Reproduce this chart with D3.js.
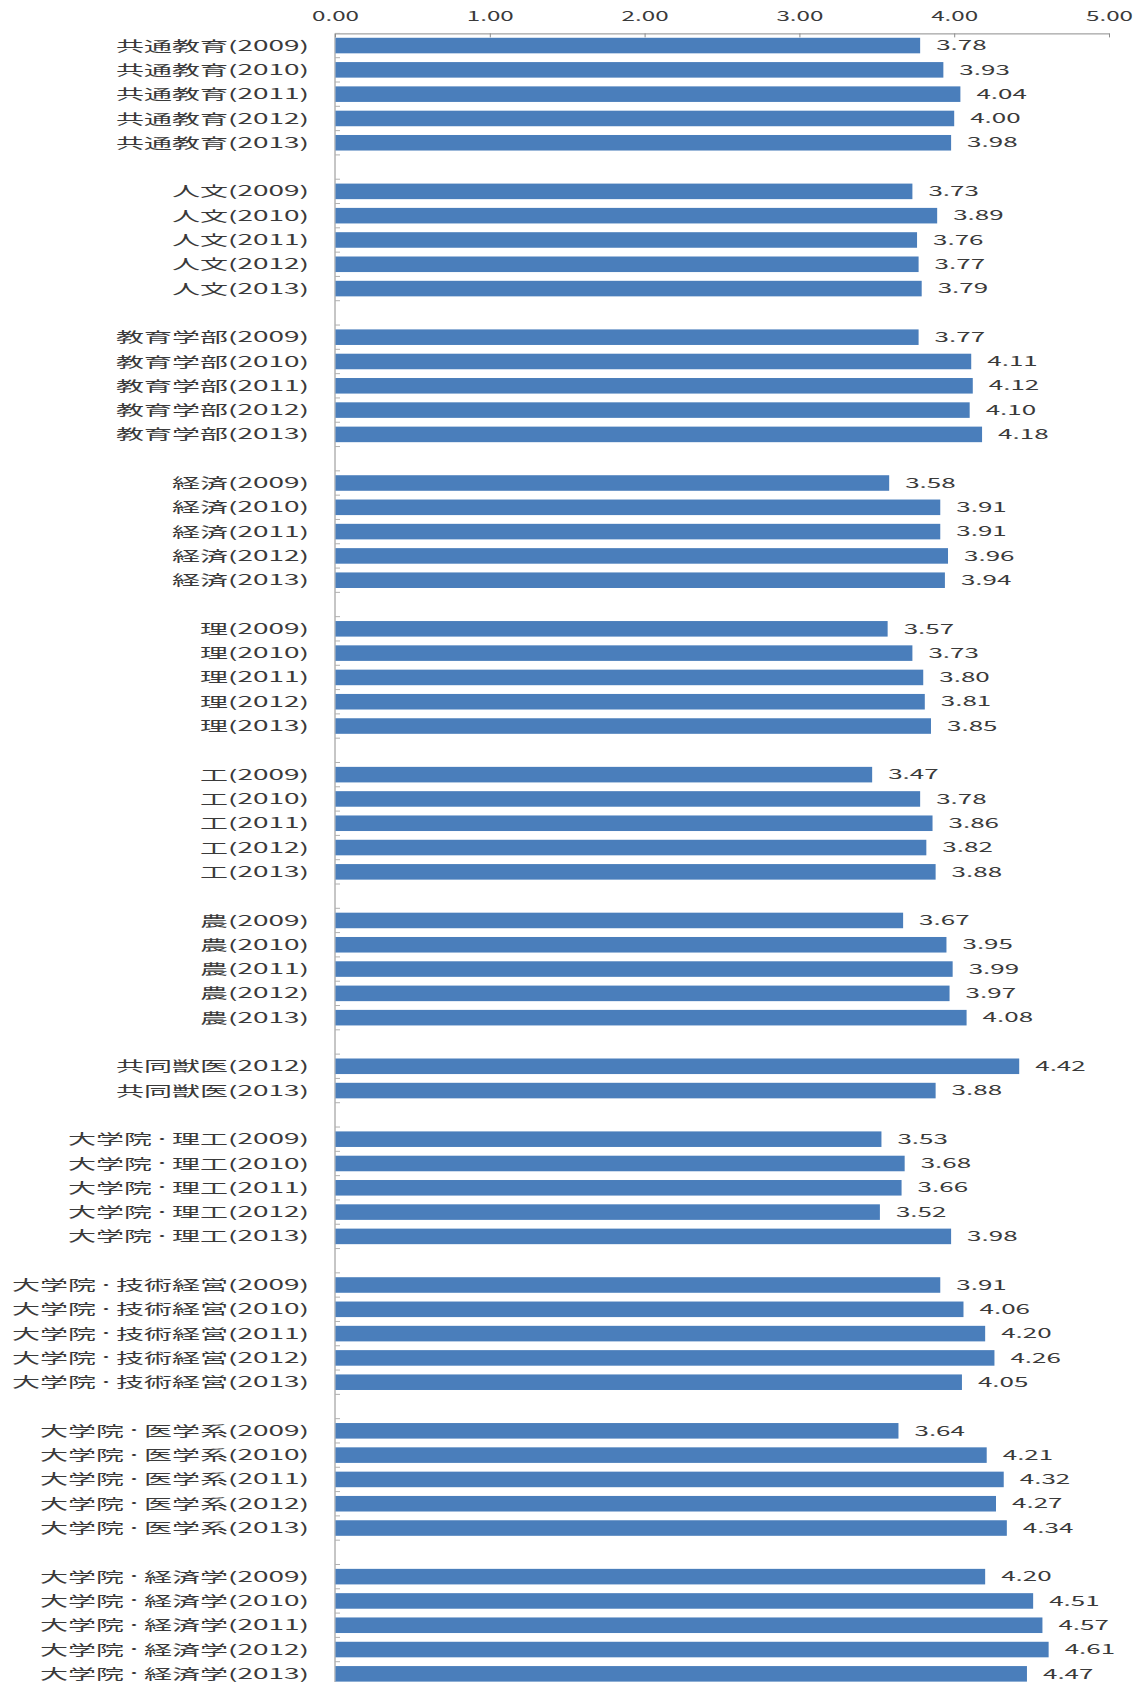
<!DOCTYPE html>
<html>
<head>
<meta charset="utf-8">
<script src="https://cdn.jsdelivr.net/npm/d3@7"></script>
<style>
  html, body { margin: 0; padding: 0; background: #ffffff; }
  svg { display: block; }
  text { font-family: "Noto Sans CJK JP", "Noto Sans", sans-serif; fill: #3a3a3a; }
</style>
</head>
<body>
<svg id="chart" width="1139" height="1682"></svg>
<script>
// ---- data ----
const groups = ["共通教育", "人文", "教育学部", "経済", "理", "工", "農", "共同獣医",
  "大学院・理工", "大学院・技術経営", "大学院・医学系", "大学院・経済学"];
const years5 = [2009, 2010, 2011, 2012, 2013];
const groupYears = [years5, years5, years5, years5, years5, years5, years5, [2012, 2013],
  years5, years5, years5, years5];
const values = [
  [3.78, 3.93, 4.04, 4.00, 3.98],
  [3.73, 3.89, 3.76, 3.77, 3.79],
  [3.77, 4.11, 4.12, 4.10, 4.18],
  [3.58, 3.91, 3.91, 3.96, 3.94],
  [3.57, 3.73, 3.80, 3.81, 3.85],
  [3.47, 3.78, 3.86, 3.82, 3.88],
  [3.67, 3.95, 3.99, 3.97, 4.08],
  [4.42, 3.88],
  [3.53, 3.68, 3.66, 3.52, 3.98],
  [3.91, 4.06, 4.20, 4.26, 4.05],
  [3.64, 4.21, 4.32, 4.27, 4.34],
  [4.20, 4.51, 4.57, 4.61, 4.47]
];
const xTicks = [0, 1, 2, 3, 4, 5];

// ---- build slots (bars + empty spacer categories between groups) ----
const slots = [];
groups.forEach((g, i) => {
  groupYears[i].forEach((yr, j) => {
    slots.push({ key: `${g}(${yr})`, label: `${g}(${yr})`, value: values[i][j] });
  });
  if (i < groups.length - 1) slots.push({ key: `gap-${i}`, label: "", value: null });
});

// ---- layout ----
const SX = 2.0; // horizontal stretch of the original picture's text
const svg = d3.select("#chart");
const x = d3.scaleLinear().domain([0, 5]).range([335, 1109]);
const y = d3.scaleBand().domain(slots.map(d => d.key))
  .range([33.4, 1686]).paddingInner(0.36).paddingOuter(0.18);

const axisColor = "#8c8c8c";

// top axis
const gx = svg.append("g").attr("transform", `translate(0,${y.range()[0]})`)
  .call(d3.axisTop(x).tickValues(xTicks).tickFormat(d3.format(".2f"))
    .tickSizeInner(-4).tickSizeOuter(0));
gx.select(".domain").attr("stroke", axisColor);
gx.selectAll(".tick line").attr("stroke", axisColor);
gx.selectAll(".tick text")
  .attr("y", -12).attr("dy", 0)
  .attr("transform", `scale(${SX * 0.93},1)`)
  .style("font-size", "13px")
  .style("font-family", "'Noto Sans CJK JP', sans-serif")
  .attr("fill", "#444");

// left axis line
svg.append("line")
  .attr("x1", x(0)).attr("x2", x(0))
  .attr("y1", y.range()[0]).attr("y2", y.range()[1])
  .attr("stroke", axisColor);

// category boundary ticks
const step = y.step();
const bounds = d3.range(slots.length + 1).map(i => y.range()[0] + i * step);
svg.append("g").selectAll("line").data(bounds).join("line")
  .attr("x1", x(0)).attr("x2", x(0) + 5)
  .attr("y1", d => d).attr("y2", d => d)
  .attr("stroke", "#b0b0b0");

// bars
const barData = slots.filter(d => d.value !== null);
svg.append("g").selectAll("rect").data(barData).join("rect")
  .attr("x", x(0) + 0.5)
  .attr("y", d => y(d.key))
  .attr("width", d => x(d.value) - x(0) - 0.5)
  .attr("height", y.bandwidth())
  .attr("fill", "#4a7ebb");

// value labels
svg.append("g").selectAll("text").data(barData).join("text")
  .attr("transform", d => `translate(${x(d.value) + 16},${y(d.key) + y.bandwidth() / 2}) scale(${SX},1)`)
  .attr("dy", "0.36em")
  .attr("text-anchor", "start")
  .style("font-size", "13px")
  .text(d => d3.format(".2f")(d.value));

// category labels (the middle dot is set narrower, as in the original)
const catText = svg.append("g").selectAll("text").data(barData).join("text")
  .attr("transform", d => `translate(309,${y(d.key) + y.bandwidth() / 2}) scale(${SX},1)`)
  .attr("dy", "0.36em")
  .attr("text-anchor", "end")
  .style("font-size", "14px");
catText.each(function (d) {
  const t = d3.select(this);
  const parts = d.label.split("・");
  if (parts.length === 1) { t.text(d.label); return; }
  t.append("tspan").text(parts[0]);
  t.append("tspan").attr("dy", -1.5).style("font-size", "10px").text("・");
  t.append("tspan").attr("dy", 1.5).text(parts.slice(1).join("・"));
});
</script>
</body>
</html>
